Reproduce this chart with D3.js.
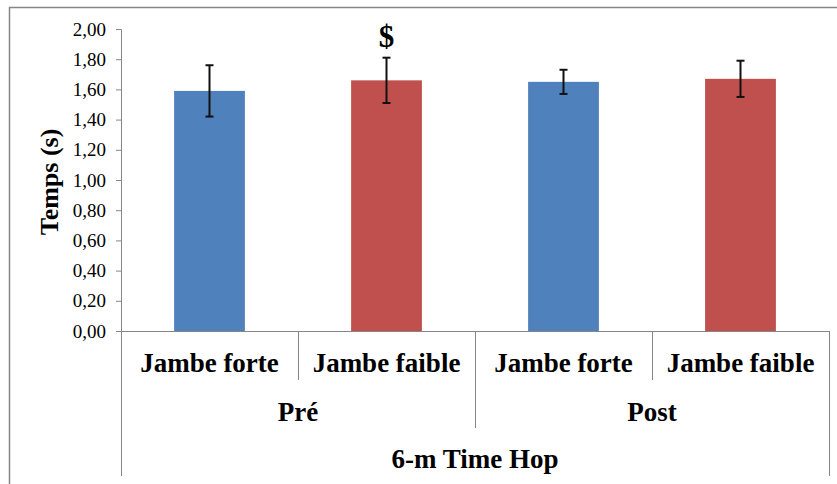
<!DOCTYPE html>
<html>
<head>
<meta charset="utf-8">
<script src="https://cdn.jsdelivr.net/npm/d3@7"></script>
<style>
  html, body { margin: 0; padding: 0; background: #fff; }
  svg { display: block; }
  text { font-family: "Liberation Serif", "Times New Roman", serif; fill: #000; }
</style>
</head>
<body>
<svg id="chart" width="837" height="484"></svg>
<script>
// Mean times (s) and standard deviations per leg and session
const sessions = ["Pré", "Post"];
const legs = ["Jambe forte", "Jambe faible"];
const means = [1.59, 1.66, 1.65, 1.67];
const sds = [0.17, 0.15, 0.08, 0.12];
const barColors = ["#4F81BD", "#C0504D"];
const yTicks = [0, 0.2, 0.4, 0.6, 0.8, 1.0, 1.2, 1.4, 1.6, 1.8, 2.0];
const markers = ["", "$", "", ""];
const axisTitle = "Temps (s)";
const groupTitle = "6-m Time Hop";

const rows = [];
sessions.forEach((s, i) => legs.forEach((l, j) => {
  const k = i * legs.length + j;
  rows.push({ key: s + "|" + l, session: s, leg: l, legIndex: j, mean: means[k], sd: sds[k], marker: markers[k] });
}));

const serif = '"Liberation Serif", "Times New Roman", serif';
const svg = d3.select("#chart");
const plot = { left: 121, right: 829, top: 29, bottom: 331 };
const axisColor = "#868686";

// Outer chart frame
svg.append("rect")
  .attr("x", 9.5).attr("y", 7.5)
  .attr("width", 860).attr("height", 500)
  .attr("fill", "none").attr("stroke", axisColor).attr("stroke-width", 1.5);

const x = d3.scaleBand()
  .domain(rows.map(d => d.key))
  .range([plot.left, plot.right])
  .paddingInner(0.6).paddingOuter(0.3);
const step = x.step();
const catStart = k => x(k) - step * 0.3;

const y = d3.scaleLinear().domain([0, 2]).range([plot.bottom, plot.top]);

const loc = d3.formatLocale({ decimal: ",", thousands: " ", grouping: [3], currency: ["", ""] });
const fmt = loc.format(".2f");

// Value axis
const yAxis = d3.axisLeft(y).tickValues(yTicks).tickFormat(fmt).tickSize(5).tickPadding(10);
const gy = svg.append("g").attr("transform", `translate(${plot.left},0)`).call(yAxis);
gy.attr("font-family", null);
gy.select(".domain").attr("stroke", axisColor).attr("stroke-width", 1);
gy.selectAll(".tick line").attr("stroke", axisColor);
gy.selectAll(".tick text")
  .style("font-family", serif)
  .style("font-size", "19px").attr("fill", "#000");

// Axis title
svg.append("text")
  .attr("transform", `translate(58,${(plot.top + plot.bottom) / 2 + 2}) rotate(-90)`)
  .attr("text-anchor", "middle")
  .attr("font-size", 26).attr("font-weight", "bold")
  .text(axisTitle);

// Bars
svg.append("g").selectAll("rect").data(rows).join("rect")
  .attr("x", d => x(d.key)).attr("width", x.bandwidth())
  .attr("y", d => y(d.mean)).attr("height", d => y(0) - y(d.mean))
  .attr("fill", d => barColors[d.legIndex]);

// Error bars (± SD)
const eb = svg.append("g").selectAll("g").data(rows).join("g")
  .attr("transform", d => `translate(${x(d.key) + x.bandwidth() / 2},0)`);
eb.append("line")
  .attr("y1", d => y(d.mean + d.sd)).attr("y2", d => y(d.mean - d.sd))
  .attr("stroke", "#111").attr("stroke-width", 2);
eb.selectAll("line.cap").data(d => [d.mean + d.sd, d.mean - d.sd]).join("line")
  .attr("class", "cap")
  .attr("x1", -4).attr("x2", 4)
  .attr("y1", v => y(v)).attr("y2", v => y(v))
  .attr("stroke", "#111").attr("stroke-width", 2);

// Significance markers
svg.append("g").selectAll("text").data(rows.filter(d => d.marker)).join("text")
  .attr("x", d => x(d.key) + x.bandwidth() / 2)
  .attr("y", d => y(d.mean + d.sd) - 11)
  .attr("text-anchor", "middle")
  .attr("font-size", 31).attr("font-weight", "bold")
  .text(d => d.marker);

// Multi-level category axis
const cat = svg.append("g").attr("stroke", axisColor).attr("stroke-width", 1);
cat.append("line").attr("x1", plot.left).attr("x2", plot.right)
  .attr("y1", plot.bottom + 0.5).attr("y2", plot.bottom + 0.5);
[plot.left, plot.right].forEach(px => cat.append("line")
  .attr("x1", px + 0.5).attr("x2", px + 0.5).attr("y1", plot.bottom).attr("y2", 476));
rows.forEach((d, i) => {
  if (i === 0) return;
  const px = Math.round(catStart(d.key)) + 0.5;
  const isGroupEdge = d.legIndex === 0;
  cat.append("line").attr("x1", px).attr("x2", px)
    .attr("y1", plot.bottom).attr("y2", isGroupEdge ? 428 : 380);
});

svg.append("g").selectAll("text").data(rows).join("text")
  .attr("x", d => x(d.key) + x.bandwidth() / 2)
  .attr("y", 372)
  .attr("text-anchor", "middle")
  .attr("font-size", 27).attr("font-weight", "bold")
  .text(d => d.leg);

svg.append("g").selectAll("text").data(sessions).join("text")
  .attr("x", s => {
    const ks = rows.filter(r => r.session === s).map(r => r.key);
    return (catStart(ks[0]) + catStart(ks[ks.length - 1]) + step) / 2;
  })
  .attr("y", 421)
  .attr("text-anchor", "middle")
  .attr("font-size", 27).attr("font-weight", "bold")
  .text(s => s);

svg.append("text")
  .attr("x", (plot.left + plot.right) / 2).attr("y", 468)
  .attr("text-anchor", "middle")
  .attr("font-size", 27).attr("font-weight", "bold")
  .text(groupTitle);
</script>
</body>
</html>
